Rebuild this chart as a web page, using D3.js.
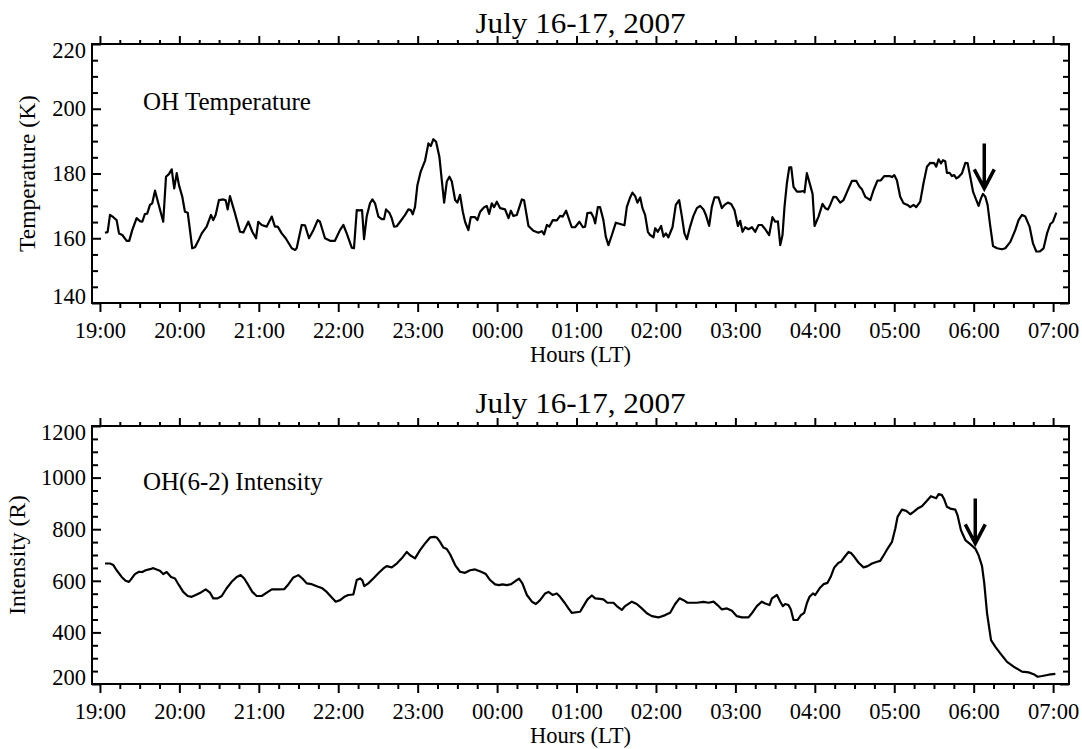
<!DOCTYPE html>
<html><head><meta charset="utf-8">
<script src="https://cdn.jsdelivr.net/npm/d3@7/dist/d3.min.js"></script>
<style>body{margin:0;background:#fff}svg{display:block}</style>
</head><body>
<svg id="chart" width="1082" height="749"></svg>
<script>
// ---- data (time in minutes after 19:00 LT) ----
const hourLabels = ["19:00","20:00","21:00","22:00","23:00","00:00","01:00","02:00","03:00","04:00","05:00","06:00","07:00"];
const tempTicks = [140,160,180,200,220];
const intTicks = [200,400,600,800,1000,1200];

const tempMinutes = [3.8,5.8,7.6,10.1,12.6,14.4,16.9,20.2,22.1,24.4,27.7,30.2,32.0,34.0,35.7,37.8,39.5,41.6,44.1,47.8,49.9,52.1,54.2,56.1,58.0,59.7,62.2,64.2,66.3,68.0,69.7,71.8,74.3,76.9,80.6,83.9,85.6,87.4,89.9,93.2,95.0,96.5,98.2,102.0,105.8,108.3,112.1,115.1,117.9,119.6,122.2,126.0,129.8,132.2,134.3,137.3,140.3,144.9,147.4,148.6,152.4,154.9,157.9,161.2,164.5,166.2,170.0,173.8,177.5,181.3,183.9,186.4,190.2,191.9,194.0,195.9,198.0,199.5,201.5,204.0,205.8,207.8,210.3,212.9,214.6,216.1,218.6,220.4,222.2,224.2,228.0,230.5,233.0,234.8,236.3,238.0,239.8,242.3,245.6,248.1,249.9,251.9,253.9,256.4,258.2,260.0,262.0,264.0,265.8,268.3,270.0,272.0,274.1,275.8,278.3,280.1,283.4,285.1,287.2,290.2,292.2,294.0,296.0,297.7,299.8,302.3,306.0,308.6,310.4,312.3,314.9,318.7,320.4,323.7,327.4,331.2,333.8,335.5,337.6,339.5,342.1,345.1,347.6,349.6,352.1,356.4,358.9,362.2,364.8,366.5,368.2,371.0,372.8,374.1,376.1,377.8,380.3,382.1,384.1,386.7,389.7,393.0,396.2,398.0,400.5,402.2,404.3,406.0,408.1,409.8,411.8,413.9,415.6,418.1,419.4,421.4,423.9,425.7,427.5,429.4,432.5,435.0,437.5,439.6,441.5,443.4,445.8,448.3,450.9,453.4,455.9,457.7,460.2,462.2,464.2,467.2,469.8,471.8,474.3,476.8,479.3,481.9,483.6,485.4,487.4,489.9,492.5,495.0,497.5,500.0,502.5,505.5,508.0,510.1,512.1,513.9,515.6,517.1,518.9,520.7,522.2,523.9,526.5,529.0,531.5,532.2,534.0,536.5,538.3,539.8,542.8,545.8,547.9,549.9,551.6,554.1,556.2,559.2,561.7,565.5,568.0,571.3,573.8,575.6,578.1,581.9,584.4,587.3,589.9,592.4,596.5,598.3,600.0,602.0,604.5,607.0,610.0,612.1,614.6,616.6,619.6,622.1,624.7,627.2,630.2,631.7,633.5,635.3,636.8,638.5,639.8,641.8,643.6,645.3,646.9,648.6,651.2,653.7,655.4,657.4,659.5,662.0,663.7,665.5,667.0,668.8,670.5,672.5,674.6,677.6,681.4,683.9,687.7,691.4,693.9,696.5,699.0,702.2,704.8,707.3,709.8,712.8,715.4,717.9,719.9,722.4];
const tempValues = [161.7,161.9,167.2,166.5,165.6,161.5,161.0,159.2,159.2,162.5,166.2,165.3,165.1,167.5,167.6,170.3,170.8,174.7,170.8,165.1,179.0,179.8,181.3,175.4,180.1,176.4,172.8,168.2,167.9,162.5,156.9,157.2,159.2,161.5,163.6,167.2,165.6,167.2,171.8,172.0,171.7,168.9,173.0,167.7,162.0,161.8,165.1,162.0,160.0,165.1,164.1,163.6,166.7,163.6,163.6,161.5,160.0,156.9,156.4,156.9,164.1,164.0,160.0,162.5,165.6,165.1,160.0,159.2,159.2,162.5,164.1,161.5,157.1,156.9,168.7,168.6,168.7,159.7,166.7,170.8,172.0,170.8,166.7,165.9,165.9,168.9,167.9,166.2,163.6,163.7,165.8,167.2,168.9,168.7,167.4,169.7,176.4,180.6,184.0,189.3,188.5,190.6,189.8,185.2,178.0,171.0,177.5,179.0,177.5,171.8,171.0,173.4,168.2,165.1,162.5,166.5,166.5,165.6,168.2,169.6,170.0,167.5,170.8,169.6,171.3,169.3,168.9,166.2,168.5,166.9,167.2,172.0,171.7,163.8,162.3,161.7,162.2,161.2,164.1,163.6,165.6,165.5,166.9,166.7,168.5,163.4,163.4,165.1,163.4,163.6,167.8,167.9,166.5,164.6,169.6,169.6,165.6,160.5,157.9,161.0,164.8,164.4,164.0,169.7,172.6,174.1,173.0,171.0,172.6,169.3,167.2,162.0,161.0,160.3,163.1,162.0,163.8,160.5,161.5,160.3,163.4,170.3,171.8,166.7,161.5,159.7,163.6,166.9,169.3,170.0,168.9,167.2,163.8,169.7,172.6,172.6,169.3,170.3,171.0,170.6,168.7,163.8,165.4,162.0,163.4,162.8,163.4,162.0,164.1,164.1,162.8,161.0,166.5,165.1,165.2,157.9,161.0,169.7,177.0,181.9,181.9,175.9,174.4,174.4,174.6,174.2,180.1,176.4,173.7,163.8,166.7,170.6,169.3,168.9,170.3,172.8,172.7,171.0,171.8,175.4,177.7,177.7,175.9,175.1,172.8,171.8,174.9,177.8,177.9,179.2,179.2,178.9,179.5,177.9,172.8,170.8,170.3,169.6,170.3,169.6,171.3,177.0,182.1,183.3,183.2,182.1,184.4,183.1,184.1,183.8,180.2,180.2,179.2,179.5,178.5,178.9,180.1,183.3,183.2,179.0,174.4,171.8,170.0,172.3,173.7,172.8,170.3,163.8,157.6,156.9,156.6,156.9,158.9,162.5,165.6,167.2,166.7,163.6,158.4,155.9,155.9,156.9,161.5,164.4,165.1,167.9];

const intMinutes = [3.8,7.6,10.1,12.6,16.4,19.4,21.9,24.0,26.4,29.5,32.0,34.5,37.8,40.3,42.8,45.3,47.8,50.4,53.7,56.7,59.7,62.9,66.3,69.3,72.3,76.3,79.9,83.1,85.6,88.9,92.0,95.7,99.5,103.3,106.3,109.0,112.1,115.1,118.4,122.2,126.0,129.8,134.3,139.3,142.3,146.1,149.9,152.9,156.2,160.0,163.8,168.0,171.3,174.6,178.1,181.4,184.6,187.6,191.4,194.0,196.5,198.2,199.7,202.7,206.5,210.3,214.1,216.6,220.4,224.2,228.0,231.8,234.3,238.0,241.8,245.6,249.4,252.6,254.4,256.9,259.4,262.0,264.5,268.3,272.0,275.8,279.6,283.4,287.9,291.5,294.7,298.5,301.5,304.0,307.4,310.6,314.1,316.6,319.1,322.5,326.3,329.3,332.5,336.3,338.8,341.9,345.1,347.6,351.4,353.9,356.4,362.7,365.2,368.3,371.6,374.1,377.8,380.3,383.3,387.9,390.4,394.2,396.7,401.8,405.5,409.3,413.1,416.9,421.9,427.0,430.7,434.5,437.8,440.8,443.8,450.9,455.9,459.7,463.5,466.5,469.8,473.6,477.4,481.1,484.9,489.9,492.4,496.2,500.0,502.5,505.8,507.6,511.4,513.9,515.9,517.6,520.1,521.9,523.9,526.9,529.5,532.0,534.1,536.0,538.6,540.3,543.6,546.6,549.6,552.2,554.7,557.9,559.8,563.0,565.5,567.3,569.8,573.1,576.8,579.9,583.2,587.0,589.4,592.5,595.0,598.3,600.8,602.5,605.8,609.1,612.1,614.6,617.6,620.9,624.7,627.7,630.2,631.7,633.5,636.0,637.8,639.8,642.3,646.1,647.8,650.4,653.7,657.4,661.2,663.7,666.3,668.0,670.1,673.1,676.4,680.1,685.2,690.2,696.5,701.5,705.3,708.3,711.7,716.7,721.7];
const intValues = [667,667,661,641,615,600,596,609,626,635,634,641,645,649,644,639,626,634,615,609,583,557,541,538,545,555,567,554,532,532,541,571,596,615,622,609,583,557,541,541,554,567,567,568,586,613,622,609,590,587,579,571,557,538,519,525,538,545,547,603,609,602,579,590,609,629,648,657,652,667,687,712,699,687,719,745,768,770,768,751,729,723,703,661,635,631,641,644,635,626,603,586,583,586,583,587,600,608,590,545,519,510,525,551,557,545,551,538,512,493,476,480,502,528,543,532,530,528,515,515,502,487,502,519,510,493,474,463,458,467,476,510,532,525,515,515,518,515,519,506,489,493,484,463,458,458,474,502,519,512,506,532,545,519,502,510,506,489,448,448,467,476,515,538,551,545,571,587,592,618,652,670,674,696,712,708,693,670,652,657,667,674,677,703,725,751,803,848,876,871,858,867,880,889,910,928,923,920,936,932,915,887,880,876,854,796,758,742,725,699,657,590,474,370,344,319,286,267,248,245,238,228,231,236,239];

// arrow markers: [minute, tail value, tip value]
const tempArrow = [668.0, 189.3, 175.4];
const intArrow = [661.2, 919, 745];

// ---- drawing ----
const svg = d3.select("#chart");
const FONT = "'Liberation Serif','Times New Roman',serif";
const L = 92, R = 1069;
const x = d3.scaleLinear().domain([-6, 732]).range([L, R]);
const majorX = d3.range(0, 721, 60);
const minorX = d3.range(0, 721, 15).filter(m => m % 60 !== 0);

function panel(o) {
  const y = d3.scaleLinear().domain(o.domain).range([o.bottom, o.top]);
  const g = svg.append("g");

  const fmtHour = (d) => hourLabels[Math.round(d / 60)];
  // bottom axis (outward ticks)
  g.append("g").attr("transform", `translate(0,${o.bottom})`)
    .call(d3.axisBottom(x).tickValues(majorX).tickSize(9).tickSizeOuter(0).tickPadding(10).tickFormat(fmtHour));
  g.append("g").attr("transform", `translate(0,${o.bottom})`)
    .call(d3.axisBottom(x).tickValues(minorX).tickSize(5).tickSizeOuter(0).tickFormat(""));
  // top axis (outward)
  g.append("g").attr("transform", `translate(0,${o.top})`)
    .call(d3.axisTop(x).tickValues(majorX).tickSize(8).tickSizeOuter(0).tickFormat(""));
  g.append("g").attr("transform", `translate(0,${o.top})`)
    .call(d3.axisTop(x).tickValues(minorX).tickSize(4).tickSizeOuter(0).tickFormat(""));
  // left axis (inward)
  const minorY = d3.range(o.domain[0], o.domain[1] + 0.001, o.minorStep).filter(v => !o.ticks.includes(v));
  const gl = g.append("g").attr("transform", `translate(${L},0)`)
    .call(d3.axisLeft(y).tickValues(o.ticks).tickSize(-9).tickSizeOuter(0).tickPadding(6).tickFormat(d3.format("d")));
  g.append("g").attr("transform", `translate(${L},0)`)
    .call(d3.axisLeft(y).tickValues(minorY).tickSize(-6).tickSizeOuter(0).tickFormat(""));
  // right axis (inward)
  g.append("g").attr("transform", `translate(${R},0)`)
    .call(d3.axisRight(y).tickValues(o.ticks).tickSize(-9).tickSizeOuter(0).tickFormat(""));
  g.append("g").attr("transform", `translate(${R},0)`)
    .call(d3.axisRight(y).tickValues(minorY).tickSize(-6).tickSizeOuter(0).tickFormat(""));

  g.selectAll(".domain").remove();
  g.selectAll(".tick line").attr("stroke", "#000").attr("stroke-width", 2);
  g.selectAll(".tick text").attr("fill", "#000").style("font-family", FONT).style("font-size", "22.5px");
  // end labels of the value axis are nudged inside the frame
  const lo = o.domain[0], hi = o.domain[1];
  gl.selectAll(".tick text").attr("dy", d => d === lo ? "0.0em" : d === hi ? "0.62em" : "0.32em");

  // frame
  g.append("rect").attr("x", L).attr("y", o.top).attr("width", R - L).attr("height", o.bottom - o.top)
    .attr("fill", "none").attr("stroke", "#000").attr("stroke-width", 2);

  // data line
  const pts = o.minutes.map((m, i) => [m, o.values[i]]);
  g.append("path").datum(pts)
    .attr("d", d3.line().x(d => x(d[0])).y(d => y(d[1])))
    .attr("fill", "none").attr("stroke", "#000").attr("stroke-width", 2.2)
    .attr("stroke-linejoin", "round");

  // arrow
  const ax = x(o.arrow[0]), ay0 = y(o.arrow[1]), ay1 = y(o.arrow[2]);
  g.append("path")
    .attr("d", `M${ax},${ay0}L${ax},${ay1 - 2}M${ax - 10},${ay1 - 19}L${ax},${ay1}L${ax + 10},${ay1 - 19}`)
    .attr("fill", "none").attr("stroke", "#000").attr("stroke-width", 3.5).attr("stroke-linejoin", "miter");

  // texts
  g.append("text").attr("x", (L + R) / 2).attr("y", o.titleY).attr("text-anchor", "middle")
    .attr("textLength", 210).attr("lengthAdjust", "spacingAndGlyphs")
    .style("font-family", FONT).style("font-size", "29px").text("July 16-17, 2007");
  g.append("text").attr("x", 143).attr("y", o.top + o.innerDy)
    .style("font-family", FONT).style("font-size", "25px").text(o.inner);
  g.append("text").attr("x", (L + R) / 2).attr("y", o.bottom + 59).attr("text-anchor", "middle")
    .style("font-family", FONT).style("font-size", "22.5px").text("Hours (LT)");
  g.append("text").attr("transform", `translate(${o.ylabX},${(o.top + o.bottom) / 2}) rotate(-90)`)
    .attr("text-anchor", "middle")
    .style("font-family", FONT).style("font-size", "23.5px").text(o.ylabel);
}

panel({top: 44, bottom: 303, domain: [140, 220], ticks: tempTicks, minorStep: 5,
  minutes: tempMinutes, values: tempValues, arrow: tempArrow, titleY: 33,
  inner: "OH Temperature", innerDy: 66, ylabel: "Temperature (K)", ylabX: 35});
panel({top: 426, bottom: 684, domain: [200, 1200], ticks: intTicks, minorStep: 50,
  minutes: intMinutes, values: intValues, arrow: intArrow, titleY: 413,
  inner: "OH(6-2) Intensity", innerDy: 64, ylabel: "Intensity (R)", ylabX: 25});
</script>
</body></html>
